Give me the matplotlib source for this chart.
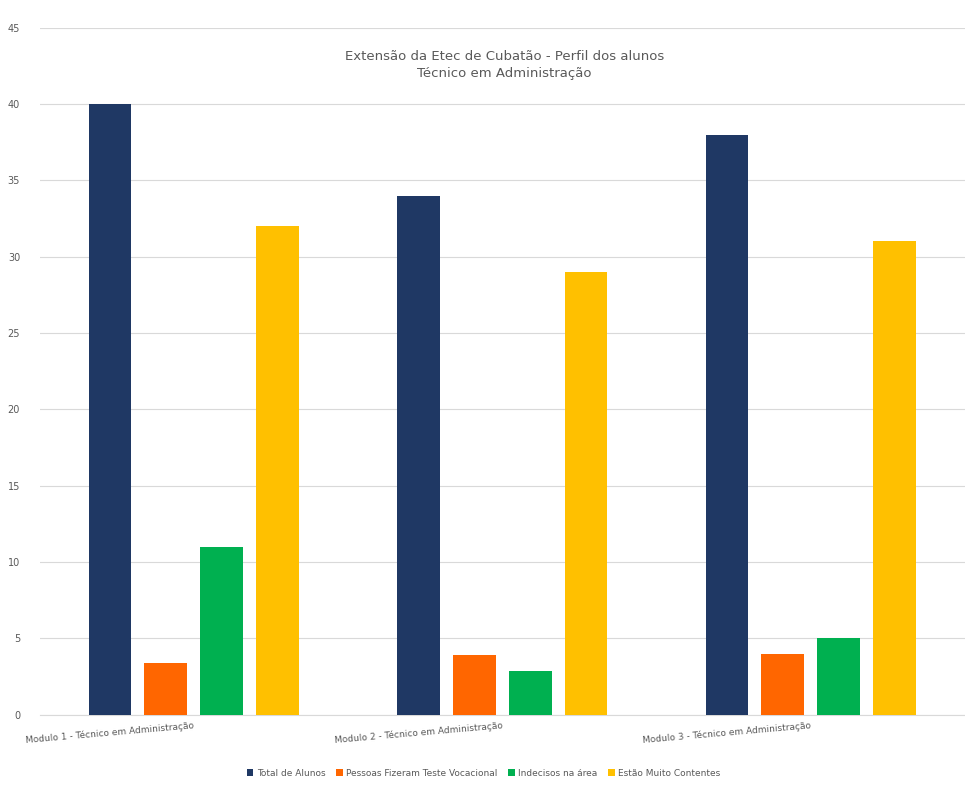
import matplotlib
matplotlib.use("Agg")
import matplotlib.pyplot as plt
import numpy as np

TEXT_COLOR = "#595959"
GRID_COLOR = "#d9d9d9"

categories = [
    "Modulo 1 - Técnico em Administração",
    "Modulo 2 - Técnico em Administração",
    "Modulo 3 - Técnico em Administração",
]
series_names = [
    "Total de Alunos",
    "Pessoas Fizeram Teste Vocacional",
    "Indecisos na área",
    "Estão Muito Contentes",
]
total_alunos = [40, 34, 38]
teste_vocacional = [3.4, 3.9, 4]
indecisos = [11, 2.9, 5]
contentes = [32, 29, 31]
colors = ["#1f3864", "#ff6600", "#00b050", "#ffc000"]

series = [total_alunos, teste_vocacional, indecisos, contentes]

fig = plt.figure(figsize=(9.65, 7.89), dpi=100)
ax = fig.add_axes([0.041, 0.094, 0.959, 0.871])

x = np.arange(len(categories))
width = 0.139
step = 0.181
for i, (vals, name, col) in enumerate(zip(series, series_names, colors)):
    ax.bar(x + (i - 1.5) * step, vals, width=width, color=col, label=name, zorder=3)

ax.set_xlim(-0.5, len(categories) - 0.5)
ax.set_ylim(0, 45)
ax.set_yticks(np.arange(0, 46, 5))
ax.yaxis.grid(True, color=GRID_COLOR, linewidth=0.8, zorder=0)
ax.tick_params(axis="y", length=0, labelsize=7, colors=TEXT_COLOR, pad=14)
ax.tick_params(axis="x", length=0, labelsize=6.5, colors=TEXT_COLOR, pad=4)
for side in ["top", "right", "left"]:
    ax.spines[side].set_visible(False)
ax.spines["bottom"].set_color(GRID_COLOR)

ax.set_xticks(x)
ax.set_xticklabels(categories, rotation=5, ha="right", rotation_mode="anchor")

fig.text(0.523, 0.929, "Extensão da Etec de Cubatão - Perfil dos alunos",
         ha="center", va="center", fontsize=9.5, color=TEXT_COLOR)
fig.text(0.523, 0.907, "Técnico em Administração",
         ha="center", va="center", fontsize=9.5, color=TEXT_COLOR)

ax.legend(loc="center", bbox_to_anchor=(0.48, -0.085), ncol=4, frameon=False,
          fontsize=6.5, labelcolor=TEXT_COLOR, handlelength=0.7, handleheight=0.7,
          columnspacing=1.2, handletextpad=0.4)

fig.savefig("out.png", dpi=100, facecolor="white")
